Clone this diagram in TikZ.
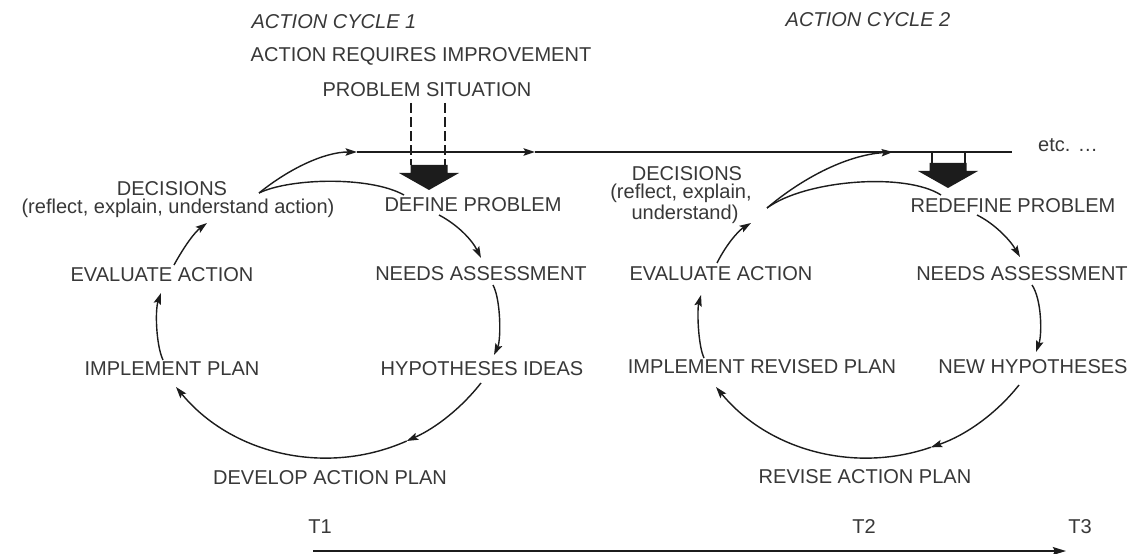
\documentclass[tikz,border=0pt]{standalone}
\usepackage{fontspec}
\setmainfont{Liberation Sans}
\usetikzlibrary{arrows.meta,calc}
\definecolor{inkc}{HTML}{383838}
\definecolor{linec}{HTML}{1C1C1C}
\begin{document}
\begin{tikzpicture}[x=0.02cm,y=-0.02cm,
  lbl/.style={inner sep=0pt, text=inkc, font=\fontsize{11.4}{13}\selectfont},
  ttl/.style={inner sep=0pt, text=inkc, font=\fontsize{11.4}{13}\selectfont\itshape},
  tip/.style={-{Stealth[length=6.5pt,width=4.2pt,inset=1.2pt]}},
  curveln/.style={draw=linec, line width=0.8pt},
  conn/.style={curveln, tip},
  mainln/.style={draw=linec, line width=0.9pt},
  dashln/.style={draw=linec, line width=0.9pt, dash pattern=on 5.5pt off 2.5pt},
  bigarrow/.pic={\fill[linec] (-18.5,0) -- (18.5,0) -- (18.5,8) -- (30,8) -- (0,25) -- (-30,8) -- (-18.5,8) -- cycle;}
]
\fill[white] (0,0) rectangle (1140,554);
\useasboundingbox (0,0) rectangle (1140,554);

% ---------- labels ----------
\node[ttl] (c1) at (334,22) {ACTION CYCLE 1};
\node[ttl] (c2) at (868,20) {ACTION CYCLE 2};
\node[lbl] (req) at (421,56) {ACTION REQUIRES IMPROVEMENT};
\node[lbl] (prob) at (427,90) {PROBLEM SITUATION};

\node[lbl] (dec1) at (172,188.5) {DECISIONS};
\node[lbl] (dec1x) at (178,208) {(reflect, explain, understand action)};
\node[lbl] (def1) at (473,205) {DEFINE PROBLEM};
\node[lbl] (eva1) at (162,275) {EVALUATE ACTION};
\node[lbl] (need1) at (481,274) {NEEDS ASSESSMENT};
\node[lbl] (imp1) at (172,369) {IMPLEMENT PLAN};
\node[lbl] (hyp1) at (482,369) {HYPOTHESES IDEAS};
\node[lbl] (dev1) at (330,478) {DEVELOP ACTION PLAN};

\node[lbl] (dec2) at (687,173.5) {DECISIONS};
\node[lbl] (dec2x) at (681,193.5) {(reflect, explain,};
\node[lbl] (dec2y) at (685,214) {understand)};
\node[lbl] (redef) at (1013,206) {REDEFINE PROBLEM};
\node[lbl] (eva2) at (721,274) {EVALUATE ACTION};
\node[lbl] (need2) at (1022,274) {NEEDS ASSESSMENT};
\node[lbl] (imp2) at (762,367) {IMPLEMENT REVISED PLAN};
\node[lbl] (newh) at (1033,367) {NEW HYPOTHESES};
\node[lbl] (rev) at (865,477) {REVISE ACTION PLAN};

\node[lbl] (etc) at (1068,145) {etc. \dots};
\node[lbl] (t1) at (320,527) {T1};
\node[lbl] (t2) at (864,527) {T2};
\node[lbl] (t3) at (1080,527) {T3};

% ---------- main line ----------
\coordinate (m1) at (357,152);
\coordinate (mmid) at (535,152);
\coordinate (m2) at (893,152);
\coordinate (mend) at (1012,152);
\draw[mainln, tip] (m1) -- (mmid);
\draw[mainln] (mmid) -- (mend);

% ---------- big arrows ----------
\coordinate (ba1) at (429,165);
\draw[dashln] ($(prob)+(-16,13)$) -- ($(ba1)+(-18,0)$);
\draw[dashln] ($(prob)+(18,13)$) -- ($(ba1)+(16,0)$);
\pic at (ba1) {bigarrow};

\coordinate (ba2) at (948,163);
\draw[mainln] ($(ba2)+(-16,-11)$) -- ($(ba2)+(-16,0)$);
\draw[mainln] ($(ba2)+(17,-11)$) -- ($(ba2)+(17,0)$);
\pic at (ba2) {bigarrow};

% ---------- cycle 1 ----------
\draw[conn] ($(dec1x)+(81,-15)$) .. controls (290,168) and (325,152) .. (m1);
\draw[curveln] ($(dec1x)+(81,-15)$) .. controls (290,178) and (370,176) .. ($(def1)+(-69,-10)$);
\draw[conn] ($(def1)+(-34,10)$) .. controls (458,225) and (472,240) .. ($(need1)+(0,-16)$);
\draw[conn] ($(need1)+(12,11)$) .. controls (501,300) and (501,340) .. ($(hyp1)+(12,-14)$);
\coordinate (bm1) at (406.7,441);
\draw[conn] ($(hyp1)+(-1,14)$) .. controls (461.3,408.1) and (435.8,428) .. (bm1);
\draw[conn] (bm1) .. controls (326.4,476.7) and (231.7,454.5) .. ($(imp1)+(4,18)$);
\draw[conn] ($(imp1)+(-9,-9)$) .. controls (156,345) and (155,310) .. ($(eva1)+(-1,18)$);
\draw[conn] ($(eva1)+(12,-10)$) .. controls (185,245) and (195,232) .. ($(dec1x)+(29,15)$);

% ---------- cycle 2 ----------
\draw[conn] ($(dec2y)+(82,-6)$) .. controls (800,180) and (845,155) .. (m2);
\draw[curveln] ($(dec2y)+(82,-6)$) .. controls (805,180) and (905,172) .. ($(redef)+(-72,-11)$);
\draw[conn] ($(redef)+(-36,9)$) .. controls (995,224) and (1010,240) .. ($(need2)+(-2,-17)$);
\draw[conn] ($(need2)+(10,11)$) .. controls (1042,300) and (1042,335) .. ($(newh)+(3,-15)$);
\coordinate (bm2) at (930.8,447.3);
\draw[conn] ($(newh)+(-14,18)$) .. controls (996.2,413.8) and (965.5,435.4) .. (bm2);
\draw[conn] (bm2) .. controls (853.5,473.9) and (767.8,449.8) .. ($(imp2)+(-46,20)$);
\draw[conn] ($(imp2)+(-58,-9)$) .. controls (698,345) and (697,310) .. ($(eva2)+(-20,21)$);
\draw[conn] ($(eva2)+(-4,-11)$) .. controls (726,245) and (738,231) .. ($(dec2y)+(66,9)$);

% ---------- time line ----------
\coordinate (tl0) at (313,551);
\coordinate (tl1) at (1066,551);
\draw[mainln, -{Stealth[length=7.5pt,width=4.5pt,inset=1.2pt]}] (tl0) -- (tl1);
\end{tikzpicture}
\end{document}
